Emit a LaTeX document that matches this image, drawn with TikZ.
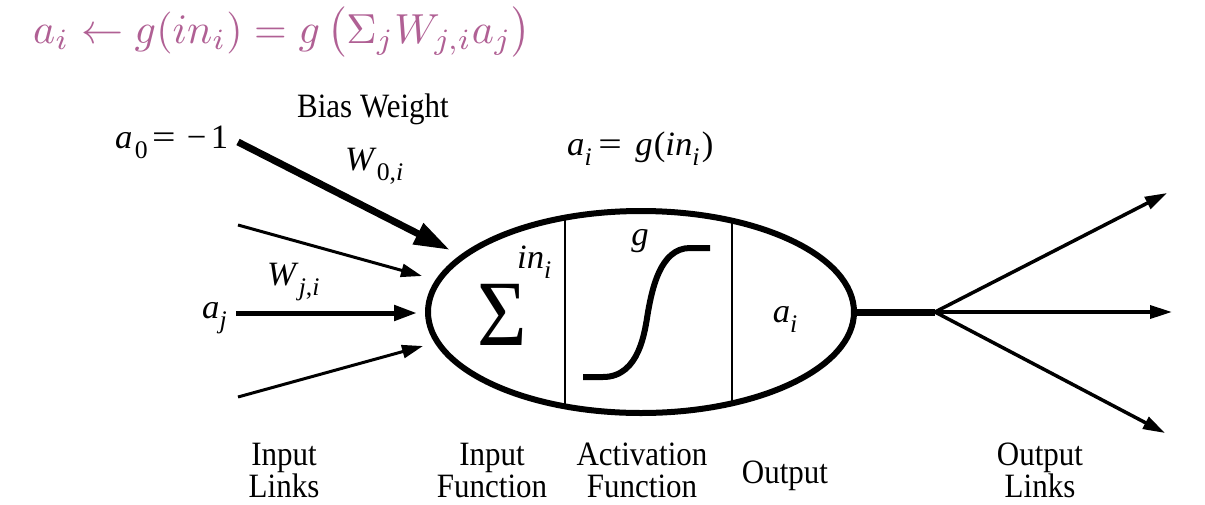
\documentclass[tikz,border=0pt]{standalone}
\usepackage[no-math]{fontspec}
\setmainfont{Liberation Serif}
\usetikzlibrary{arrows.meta,shapes.geometric}
\definecolor{mauve}{RGB}{176,96,148}
\newcommand\sbs[1]{\raisebox{-0.3em}{\fontsize{23}{23}\selectfont #1}}
\newcommand\tl[1]{\scalebox{1}[1.1]{#1}}
\newcommand\mtl[1]{\scalebox{1.12}[1.1]{#1}}
\newcommand\weq{\scalebox{1.2}[1]{=}}
\begin{document}
\begin{tikzpicture}[x=1pt,y=-1pt,
  lbl/.style={inner sep=0pt,font=\fontsize{31}{25.5}\selectfont},
  bot/.style={lbl,anchor=base},
  bigarr/.style={line width=7pt,-{Triangle[length=36pt,width=22pt]}},
  thinarr/.style={line width=3pt,-{Triangle[length=21pt,width=13pt]}},
  midarr/.style={line width=5pt,-{Triangle[length=23pt,width=15pt]}},
  outarr/.style={line width=3.5pt,-{Triangle[length=22pt,width=13pt]}}]
\useasboundingbox (0,0) rectangle (1205,504);
% formula
\node[anchor=base west,inner sep=0pt,text=mauve] (formula) at (33,43)
  {\scalebox{4.2}{$a_i \leftarrow g(in_i) = g\,\bigl(\Sigma_j W_{j,i} a_j\bigr)$}};
% cell
\node[draw,ellipse,line width=6pt,inner sep=0pt,minimum width=426pt,minimum height=202pt] (cell) at (641,312) {};
\begin{scope}
  \clip (641,312) ellipse [x radius=213pt, y radius=101pt];
  \draw[line width=2pt] (565,200) -- (565,420);
  \draw[line width=2pt] (732,200) -- (732,420);
\end{scope}
\draw[line width=6pt] (583,377) -- (603,377) .. controls (640,377) and (645,330) .. (648,312)
  .. controls (652,290) and (660,248) .. (690,248) -- (710,248);
\node[lbl,anchor=base,font=\fontsize{85}{85}\selectfont] (sigma) at (502,345) {\tl{Σ}};
\node[lbl,anchor=base west] (ini) at (517,268) {\mtl{\textit{in}\sbs{\textit{i}}}};
\node[lbl,anchor=base] (g) at (640,245) {\mtl{\textit{g}}};
\node[lbl,anchor=base] (aiout) at (785,322) {\mtl{\textit{a}\sbs{\textit{i}}}};
% labels
\node[lbl,anchor=base west] (a0) at (115,148) {\mtl{\textit{a}\hspace{2pt}\sbs{0}\hspace{4pt}\weq\hspace{10pt}−\hspace{4pt}1}};
\node[lbl,anchor=base] (bias) at (373,117) {\tl{Bias Weight}};
\node[lbl,anchor=base west] (w0i) at (345,170) {\mtl{\textit{W}\sbs{0,\textit{i}}}};
\node[lbl,anchor=base west] (aig) at (567,155) {\mtl{\textit{a}\sbs{\textit{i}}\hspace{6pt}\weq\hspace{12pt}\textit{g}\hspace{1pt}(\textit{in}\sbs{\textit{i}}\hspace{2pt})}};
\node[lbl,anchor=base west] (wji) at (267,285) {\mtl{\textit{W}\sbs{\textit{j},\textit{i}}}};
\node[lbl,anchor=base west] (aj) at (202,318) {\mtl{\textit{a}\sbs{\textit{j}}}};
% input arrows
\coordinate (s0) at (238,142); \coordinate (e0) at (450,250);
\coordinate (s1) at (238,225); \coordinate (e1) at (422,276);
\coordinate (s2) at (236,313); \coordinate (e2) at (417,313);
\coordinate (s3) at (238,397); \coordinate (e3) at (423,346);
\draw[bigarr] (s0) -- (e0);
\draw[thinarr] (s1) -- (e1);
\draw[midarr] (s2) -- (e2);
\draw[thinarr] (s3) -- (e3);
% output
\coordinate (J) at (935,312);
\coordinate (o1) at (1167,193);
\coordinate (o2) at (1172,312);
\coordinate (o3) at (1165,433);
\draw[line width=7pt] (cell.east) -- (J);
\draw[outarr] (J) -- (o1);
\draw[outarr] (J) -- (o2);
\draw[outarr] (J) -- (o3);
% bottom labels
\node[bot] (inl1) at (284,465) {\tl{Input}};
\node[bot] (inl2) at (284,497) {\tl{Links}};
\node[bot] (inf1) at (492,465) {\tl{Input}};
\node[bot] (inf2) at (492,497) {\tl{Function}};
\node[bot] (act1) at (642,465) {\tl{Activation}};
\node[bot] (act2) at (642,497) {\tl{Function}};
\node[bot] (outl) at (785,483) {\tl{Output}};
\node[bot] (outk1) at (1040,465) {\tl{Output}};
\node[bot] (outk2) at (1040,497) {\tl{Links}};
\end{tikzpicture}
\end{document}
